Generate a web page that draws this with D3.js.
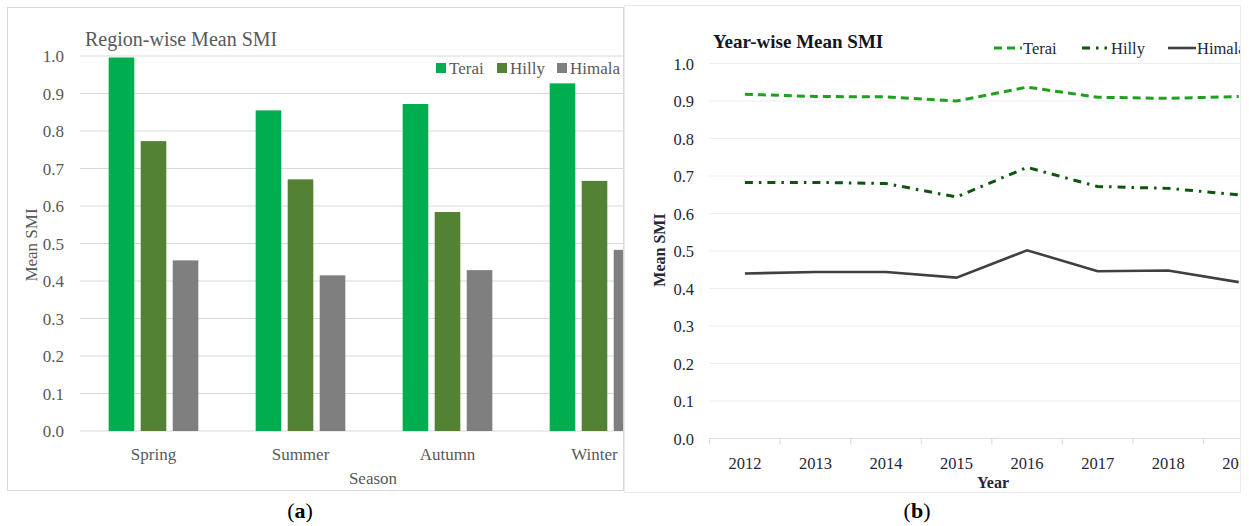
<!DOCTYPE html>
<html>
<head>
<meta charset="utf-8">
<script src="https://cdn.jsdelivr.net/npm/d3@7/dist/d3.min.js"></script>
<style>
  html, body { margin: 0; padding: 0; background: #fff; }
  svg { display: block; }
  text { font-family: "Liberation Serif", "Times New Roman", serif; }
</style>
</head>
<body>
<svg id="chart" width="1249" height="526"></svg>
<script>
// ---- data ----
const seasons = ["Spring", "Summer", "Autumn", "Winter"];
const regions = ["Terai", "Hilly", "Himala"];
const seasonTerai  = [0.996, 0.855, 0.872, 0.927];
const seasonHilly  = [0.773, 0.671, 0.584, 0.667];
const seasonHimala = [0.455, 0.415, 0.429, 0.483];

const years = ["2012", "2013", "2014", "2015", "2016", "2017", "2018", "2019"];
const yearTerai  = [0.918, 0.912, 0.911, 0.900, 0.937, 0.910, 0.907, 0.912];
const yearHilly  = [0.683, 0.683, 0.680, 0.644, 0.723, 0.672, 0.667, 0.650];
const yearHimala = [0.440, 0.444, 0.444, 0.429, 0.502, 0.446, 0.448, 0.417];

const yTicks = [0, 0.1, 0.2, 0.3, 0.4, 0.5, 0.6, 0.7, 0.8, 0.9, 1.0];

const svg = d3.select("#chart");
const defs = svg.append("defs");

// ================= (a) Region-wise bar chart =================
defs.append("clipPath").attr("id", "clipA")
  .append("rect").attr("x", 7).attr("y", 7).attr("width", 616).attr("height", 484);

const gA = svg.append("g").attr("clip-path", "url(#clipA)");
const colA = { Terai: "#00ad4f", Hilly: "#548235", Himala: "#7f7f7f" };
const textA = "#595959";

const yA = d3.scaleLinear().domain([0, 1]).range([431, 56]);
const x0 = d3.scaleBand().domain(seasons).range([80, 668])
  .paddingInner(0.39).paddingOuter(0.195);
const x1 = d3.scaleBand().domain(regions).range([0, x0.bandwidth()])
  .paddingInner(0.2).paddingOuter(0);

// gridlines
gA.append("g").selectAll("line").data(yTicks).join("line")
  .attr("x1", 80).attr("x2", 668)
  .attr("y1", d => yA(d)).attr("y2", d => yA(d))
  .attr("stroke", "#d9d9d9").attr("stroke-width", 1.2);

// y tick labels
gA.append("g").selectAll("text").data(yTicks).join("text")
  .attr("x", 64).attr("y", d => yA(d) + 6)
  .attr("text-anchor", "end").attr("font-size", 17).attr("fill", textA)
  .text(d => d.toFixed(1));

const seasonRows = seasons.map((s, i) => ({
  season: s,
  values: [
    { key: "Terai", v: seasonTerai[i] },
    { key: "Hilly", v: seasonHilly[i] },
    { key: "Himala", v: seasonHimala[i] }
  ]
}));

gA.append("g").selectAll("g").data(seasonRows).join("g")
  .attr("transform", d => `translate(${x0(d.season)},0)`)
  .selectAll("rect").data(d => d.values).join("rect")
  .attr("x", d => x1(d.key)).attr("width", x1.bandwidth())
  .attr("y", d => yA(d.v)).attr("height", d => yA(0) - yA(d.v))
  .attr("fill", d => colA[d.key]);

// x tick labels
gA.append("g").selectAll("text").data(seasons).join("text")
  .attr("x", d => x0(d) + x0.bandwidth() / 2).attr("y", 460)
  .attr("text-anchor", "middle").attr("font-size", 17).attr("fill", textA)
  .text(d => d);

gA.append("text").attr("x", 373).attr("y", 484).attr("text-anchor", "middle")
  .attr("font-size", 17).attr("fill", textA).text("Season");

gA.append("text").attr("transform", "translate(37,245) rotate(-90)")
  .attr("text-anchor", "middle").attr("font-size", 17).attr("fill", textA)
  .text("Mean SMI");

gA.append("text").attr("x", 85).attr("y", 46)
  .attr("font-size", 20).attr("fill", textA).text("Region-wise Mean SMI");

// legend
const legA = gA.append("g").selectAll("g").data(regions).join("g")
  .attr("transform", (d, i) => `translate(${[436, 497, 557][i]},63)`);
legA.append("rect").attr("width", 10).attr("height", 10).attr("fill", d => colA[d]);
legA.append("text").attr("x", 13).attr("y", 11).attr("font-size", 17)
  .attr("fill", textA).text(d => d);

// panel border
svg.append("rect").attr("x", 7.5).attr("y", 7.5).attr("width", 616).attr("height", 483)
  .attr("fill", "none").attr("stroke", "#d9d9d9");

// ================= (b) Year-wise line chart =================
svg.append("rect").attr("x", 624).attr("y", 5).attr("width", 625).attr("height", 487).attr("fill", "#fff");
defs.append("clipPath").attr("id", "clipB")
  .append("rect").attr("x", 624).attr("y", 5).attr("width", 616).attr("height", 487);

const gB = svg.append("g").attr("clip-path", "url(#clipB)");
const textB = "#262636";

const yB = d3.scaleLinear().domain([0, 1]).range([438.5, 63.5]);
const xB = d3.scaleBand().domain(years).range([709.6, 709.6 + 8 * 70.55]);
const xc = d => xB(d) + xB.bandwidth() / 2;

gB.append("g").selectAll("line").data(yTicks).join("line")
  .attr("x1", 709).attr("x2", 1280)
  .attr("y1", d => yB(d)).attr("y2", d => yB(d))
  .attr("stroke", d => d === 0 ? "#dcdfe6" : "#eceef3").attr("stroke-width", 1.2);

// category tick marks under the axis
gB.append("g").selectAll("line").data(years).join("line")
  .attr("x1", d => xB(d)).attr("x2", d => xB(d))
  .attr("y1", yB(0)).attr("y2", yB(0) + 6)
  .attr("stroke", "#dcdfe6").attr("stroke-width", 1.2);

gB.append("g").selectAll("text").data(yTicks).join("text")
  .attr("x", 694).attr("y", d => yB(d) + 6)
  .attr("text-anchor", "end").attr("font-size", 16.5).attr("fill", textB)
  .text(d => d.toFixed(1));

gB.append("g").selectAll("text").data(years).join("text")
  .attr("x", xc).attr("y", 469)
  .attr("text-anchor", "middle").attr("font-size", 16.5).attr("fill", textB)
  .text(d => d);

gB.append("text").attr("x", 993).attr("y", 488).attr("text-anchor", "middle")
  .attr("font-size", 16).attr("font-weight", "bold").attr("fill", textB).text("Year");

gB.append("text").attr("transform", "translate(665,250) rotate(-90)")
  .attr("text-anchor", "middle").attr("font-size", 16).attr("font-weight", "bold")
  .attr("fill", textB).text("Mean SMI");

gB.append("text").attr("x", 713).attr("y", 48)
  .attr("font-size", 19).attr("font-weight", "bold").attr("fill", "#15151f")
  .text("Year-wise Mean SMI");

const seriesB = [
  { key: "Terai", values: yearTerai, color: "#1fa01f", dash: "8,5", width: 3, len: 28 },
  { key: "Hilly", values: yearHilly, color: "#0d570d", dash: "8,6,2.5,6", width: 3, len: 25 },
  { key: "Himala", values: yearHimala, color: "#404040", dash: null, width: 2.6, len: 28 }
];

const line = d3.line().x((d, i) => xc(years[i])).y(d => yB(d));

gB.append("g").selectAll("path").data(seriesB).join("path")
  .attr("d", d => line(d.values))
  .attr("fill", "none").attr("stroke", d => d.color)
  .attr("stroke-width", d => d.width)
  .attr("stroke-dasharray", d => d.dash);

// legend
const legB = gB.append("g").selectAll("g").data(seriesB).join("g")
  .attr("transform", (d, i) => `translate(${[994, 1082, 1168][i]},48)`);
legB.append("line").attr("x1", 0).attr("x2", d => d.len)
  .attr("stroke", d => d.color).attr("stroke-width", d => d.width)
  .attr("stroke-dasharray", d => d.dash);
legB.append("text").attr("x", d => d.key === "Hilly" ? 29 : 29).attr("y", 6)
  .attr("font-size", 16.5).attr("fill", textB).text(d => d.key);

svg.append("rect").attr("x", 624.5).attr("y", 5.5).attr("width", 616).attr("height", 487)
  .attr("fill", "none").attr("stroke", "#e8ebf0");

// panel captions
svg.append("text").attr("x", 300).attr("y", 518).attr("text-anchor", "middle")
  .attr("font-size", 22).attr("fill", "#000")
  .html('(<tspan font-weight="bold">a</tspan>)');
svg.append("text").attr("x", 917).attr("y", 518).attr("text-anchor", "middle")
  .attr("font-size", 22).attr("fill", "#000")
  .html('(<tspan font-weight="bold">b</tspan>)');
</script>
</body>
</html>
